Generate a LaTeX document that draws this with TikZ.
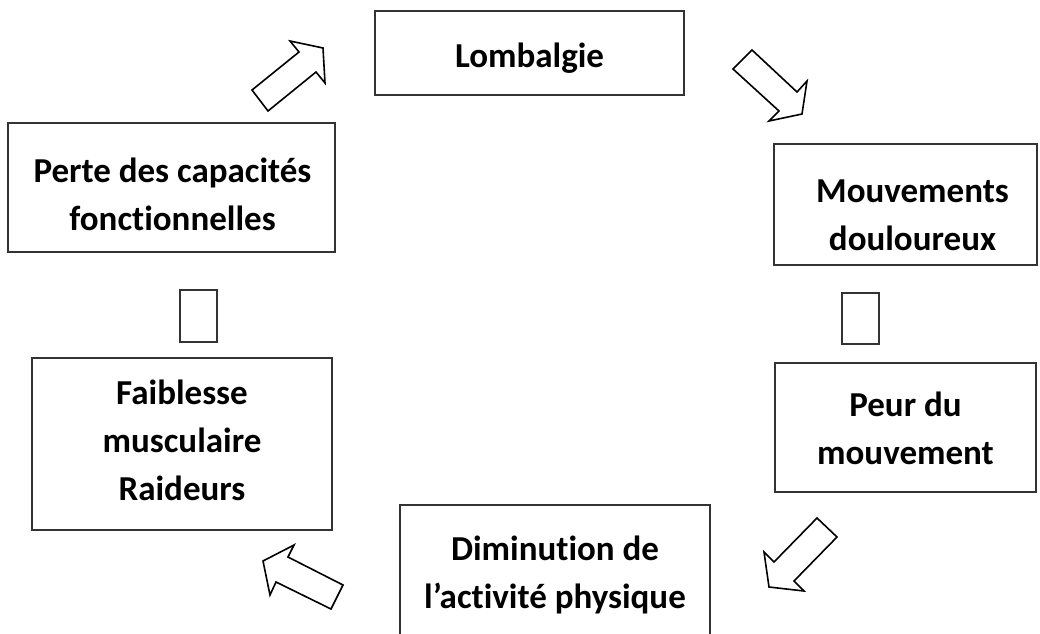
\documentclass[tikz,border=0pt]{standalone}
\usepackage{fontspec}
\setmainfont{Carlito}[Ligatures={NoCommon,NoRare}]
\begin{document}
\begin{tikzpicture}[x=1pt,y=-1pt,
  box/.style={draw=black!80,line width=1.6pt,inner sep=0pt},
  lbl/.style={anchor=base,align=center,inner sep=0pt,
    font=\fontsize{35}{48}\selectfont\bfseries},
  blockarrow/.style={draw=black,line width=1.6pt,line join=miter,fill=white}]
\useasboundingbox (0,0) rectangle (1040,633);
% boxes
\node[box,minimum width=309pt,minimum height=84pt] (lomb) at (529.5,53) {};
\node[box,minimum width=263pt,minimum height=121pt] (mouv) at (905.5,204.5) {};
\node[box,minimum width=37pt,minimum height=51pt] (sr) at (860.5,318.5) {};
\node[box,minimum width=261pt,minimum height=129pt] (peur) at (905.5,427.5) {};
\node[box,minimum width=310pt,minimum height=140pt] (dimi) at (555,575) {};
\node[box,minimum width=300pt,minimum height=172pt] (faib) at (182,444) {};
\node[box,minimum width=37pt,minimum height=52pt] (sl) at (198.5,316) {};
\node[box,minimum width=327pt,minimum height=129pt] (perte) at (171.5,187.5) {};
% texts (anchored at the baseline of their last line)
\node[lbl] (tlomb) at (529.5,67) {Lombalgie};
\node[lbl] (tmouv) at (912.5,250) {Mouvements\\douloureux};
\node[lbl] (tpeur) at (905.5,464) {Peur du\\mouvement};
\node[lbl] (tdimi) at (555,608) {Diminution de\\l’activité physique};
\node[lbl] (tfaib) at (182,500) {Faiblesse\\musculaire\\Raideurs};
\node[lbl] (tperte) at (172.5,230) {Perte des capacités\\fonctionnelles};
% block arrows
\draw[blockarrow] (268,111) -- (316,72) -- (325,83) -- (323,48) -- (290,41) -- (299,52) -- (252,90) -- cycle;
\draw[blockarrow] (733,69) -- (752,50) -- (797,92) -- (807,81) -- (802,114) -- (769,121) -- (779,111) -- cycle;
\draw[blockarrow] (817,518) -- (774,562) -- (764,552) -- (769,587) -- (804,591) -- (794,581) -- (837,537) -- cycle;
\draw[blockarrow] (343,585) -- (288,557) -- (294,545) -- (263,561) -- (270,595) -- (276,582) -- (331,609) -- cycle;
\end{tikzpicture}
\end{document}
